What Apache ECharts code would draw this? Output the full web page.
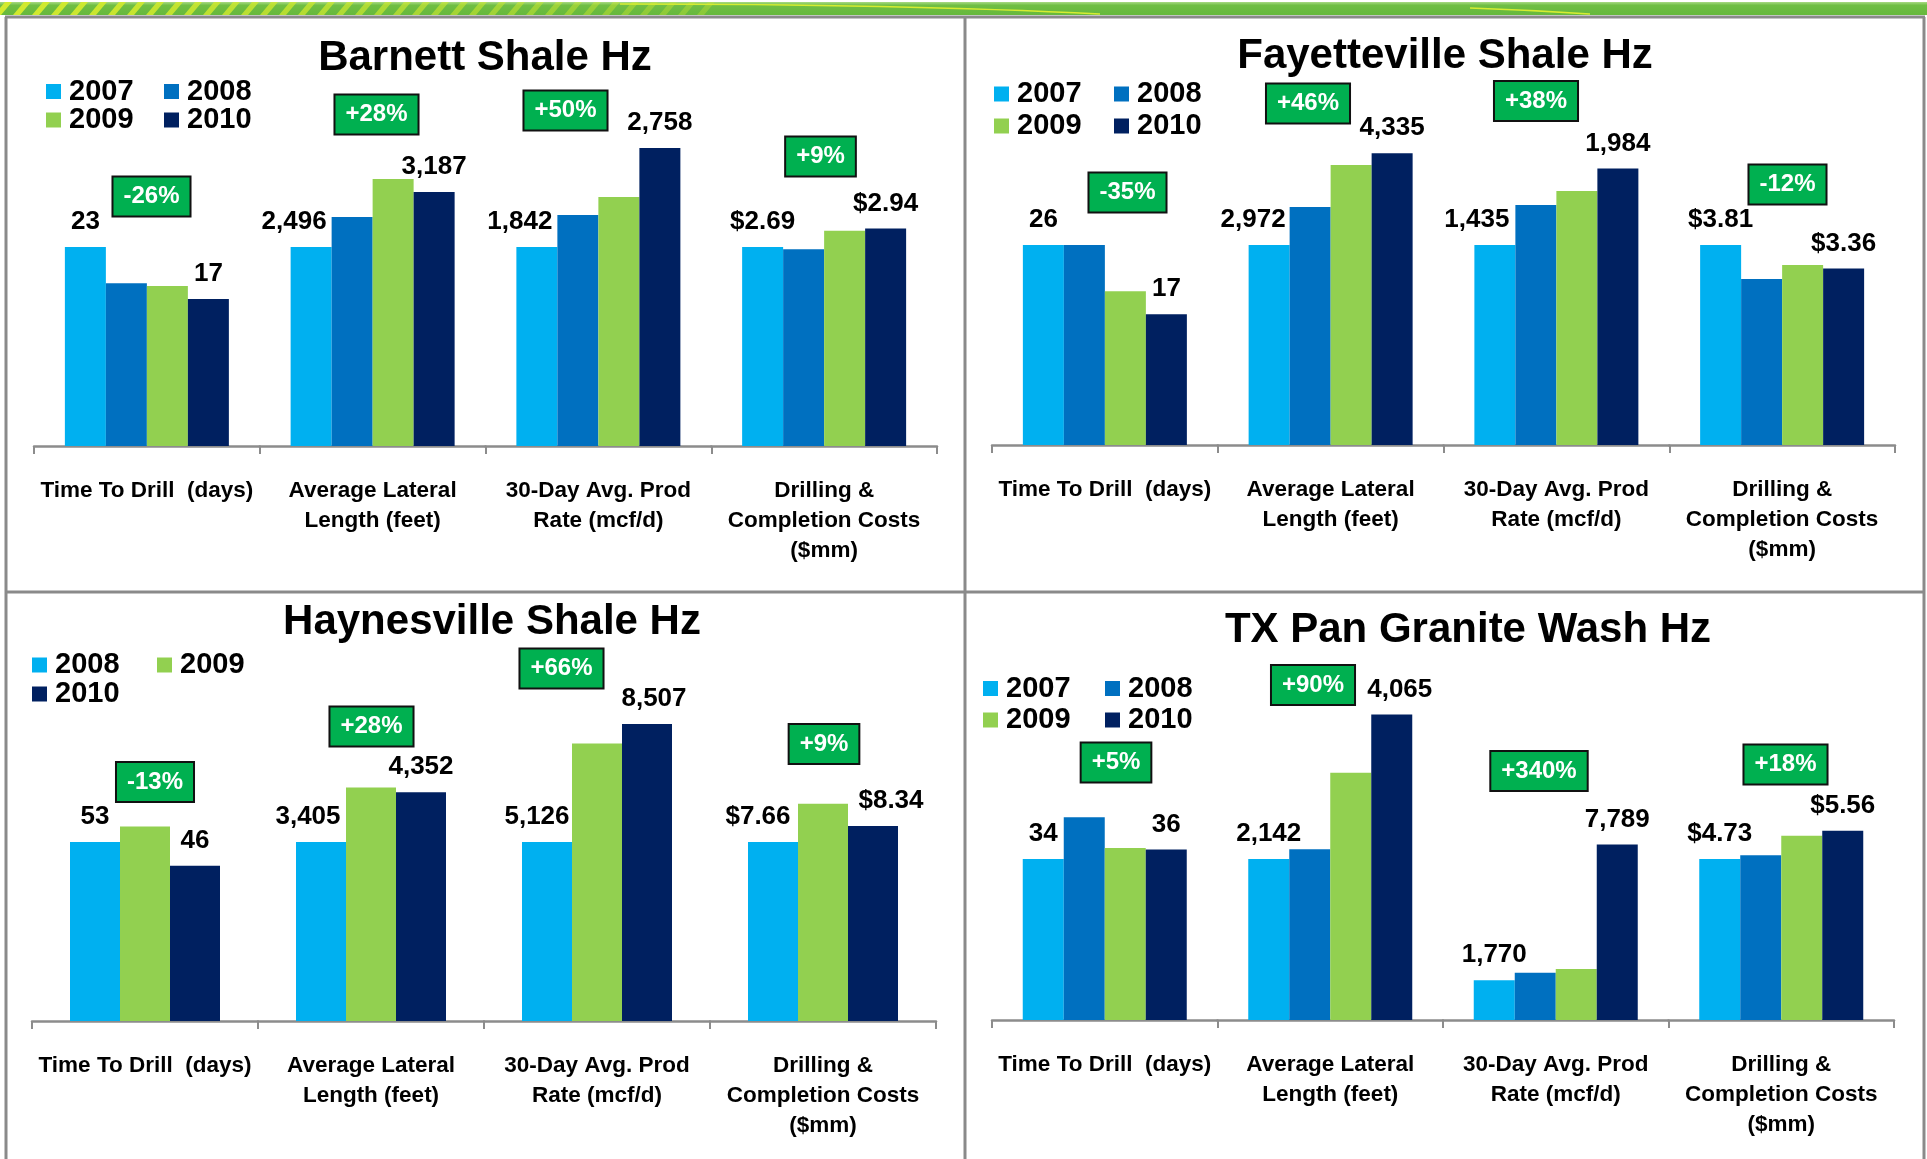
<!DOCTYPE html>
<html>
<head>
<meta charset="utf-8">
<script src="https://cdn.jsdelivr.net/npm/echarts@6/dist/echarts.min.js"></script>
<style>
  html, body { margin: 0; padding: 0; background: #ffffff; }
  #chart { width: 1927px; height: 1159px; }
</style>
</head>
<body>
<div id="chart"></div>
<script>
// ---- Data -------------------------------------------------------------
const categories = [
  'Time To Drill  (days)',
  'Average Lateral\nLength (feet)',
  '30-Day Avg. Prod\nRate (mcf/d)',
  'Drilling &\nCompletion Costs\n($mm)'
];

// Barnett Shale Hz
const barnettYears = ['2007', '2008', '2009', '2010'];
const barnett2007 = [23, 2496, 1842, 2.69];
const barnett2008 = [18.8, 2873, 2138, 2.66];
const barnett2009 = [18.5, 3349, 2305, 2.91];
const barnett2010 = [17, 3187, 2758, 2.94];
const barnettChange = ['-26%', '+28%', '+50%', '+9%'];

// Fayetteville Shale Hz
const fayYears = ['2007', '2008', '2009', '2010'];
const fay2007 = [26, 2972, 1435, 3.81];
const fay2008 = [26, 3537, 1722, 3.16];
const fay2009 = [20, 4161, 1823, 3.43];
const fay2010 = [17, 4335, 1984, 3.36];
const fayChange = ['-35%', '+46%', '+38%', '-12%'];

// Haynesville Shale Hz
const hayYears = ['2008', '2009', '2010'];
const hay2008 = [53, 3405, 5126, 7.66];
const hay2009 = [57.6, 4440, 7950, 9.3];
const hay2010 = [46, 4352, 8507, 8.34];
const hayChange = ['-13%', '+28%', '+66%', '+9%'];

// TX Pan Granite Wash Hz
const txYears = ['2007', '2008', '2009', '2010'];
const tx2007 = [34, 2142, 1770, 4.73];
const tx2008 = [42.8, 2271, 2100, 4.84];
const tx2009 = [36.3, 3290, 2270, 5.41];
const tx2010 = [36, 4065, 7789, 5.56];
const txChange = ['+5%', '+90%', '+340%', '+18%'];

// Value at which each category's bar reaches the panel's reference height
const barnettScale = [23, 2496, 1842, 2.69];
const fayScale = [26, 2972, 1435, 3.81];
const hayScale = [53, 3405, 5126, 7.66];
const txScale = [34, 2142, 7150, 4.73];

// ---- Styling --------------------------------------------------------------
const FONT = '"Liberation Sans", Arial, Helvetica, sans-serif';
const LIGHT_BLUE = '#00B0F0', BLUE = '#0070C0', GREEN = '#92D050', NAVY = '#002060';
const BOX_GREEN = '#00B050';
const FRAME = '#8a8a8a';

const valueFormat = [
  v => String(Math.round(v)),
  v => Math.round(v).toLocaleString('en-US'),
  v => Math.round(v).toLocaleString('en-US'),
  v => '$' + v.toFixed(2)
];

const panels = [
  {
    title: 'Barnett Shale Hz', years: barnettYears,
    values: [barnett2007, barnett2008, barnett2009, barnett2010],
    colors: [LIGHT_BLUE, BLUE, GREEN, NAVY], change: barnettChange, scale: barnettScale,
    x0: 34, x1: 937, base: 446, href: 199, barWidth: 41, titleAt: [485, 58],
    legendAt: [[46, 92], [164, 92], [46, 120.5], [164, 120.5]],
    boxAt: [[151.5, 196.5], [376.5, 114.5], [565.5, 110.5], [820.5, 156.5]],
    firstShift: [0, -17, -17, 0], lastShift: [0, 0, 0, 0]
  },
  {
    title: 'Fayetteville Shale Hz', years: fayYears,
    values: [fay2007, fay2008, fay2009, fay2010],
    colors: [LIGHT_BLUE, BLUE, GREEN, NAVY], change: fayChange, scale: fayScale,
    x0: 992, x1: 1895, base: 445, href: 200, barWidth: 41, titleAt: [1445, 56.5],
    legendAt: [[994, 94.5], [1114, 94.5], [994, 126.5], [1114, 126.5]],
    boxAt: [[1127.5, 192.5], [1308, 103.5], [1536, 101], [1787.5, 184.5]],
    firstShift: [0, -16, -18, 0], lastShift: [0, 0, 0, 0]
  },
  {
    title: 'Haynesville Shale Hz', years: hayYears,
    values: [hay2008, hay2009, hay2010],
    colors: [LIGHT_BLUE, GREEN, NAVY], change: hayChange, scale: hayScale,
    x0: 32, x1: 936, base: 1021, href: 179, barWidth: 50, titleAt: [492, 622.5],
    legendAt: [[32, 665.5], [157, 665.5], [32, 694.5]],
    boxAt: [[155, 782], [371.5, 726.5], [561.5, 668.5], [824, 744]],
    firstShift: [0, -13, -10, -15], lastShift: [0, 0, 7, 18]
  },
  {
    title: 'TX Pan Granite Wash Hz', years: txYears,
    values: [tx2007, tx2008, tx2009, tx2010],
    colors: [LIGHT_BLUE, BLUE, GREEN, NAVY], change: txChange, scale: txScale,
    x0: 992, x1: 1894, base: 1020, href: 161, barWidth: 41, titleAt: [1468, 630],
    legendAt: [[983, 689], [1105, 689], [983, 720.5], [1105, 720.5]],
    boxAt: [[1116, 762.5], [1313, 685], [1539, 771], [1785.5, 764.5]],
    firstShift: [0, 0, 0, 0], lastShift: [0, 8, 0, 0]
  }
];

// ---- Build option -----------------------------------------------------
const grid = [], xAxis = [], yAxis = [], series = [], legend = [], graphic = [];

// header band with diagonal highlight stripes
graphic.push({
  type: 'rect', silent: true, z: 0,
  shape: { x: 0, y: 2, width: 1927, height: 13 },
  style: { fill: { type: 'linear', x: 0, y: 0, x2: 0, y2: 1,
    colorStops: [{ offset: 0, color: '#a9da84' }, { offset: 0.25, color: '#6fbe44' }, { offset: 1, color: '#66b83c' }] } }
});
for (let i = 0; i < 38; i++) {
  const sx = i * 19 - 6;
  graphic.push({
    type: 'polygon', silent: true, z: 1,
    shape: { points: [[sx, 15], [sx + 7, 15], [sx + 18, 2], [sx + 11, 2]] },
    style: { fill: '#d3ea2e', opacity: Math.max(0.15, 1 - i / 55) }
  });
}
graphic.push({
  type: 'bezierCurve', silent: true, z: 1,
  shape: { x1: 620, y1: 4, x2: 1100, y2: 14, cpx1: 900, cpy1: 4 },
  style: { stroke: '#d6ec32', lineWidth: 1.5, fill: null }
});
graphic.push({
  type: 'bezierCurve', silent: true, z: 1,
  shape: { x1: 1470, y1: 8, x2: 1590, y2: 14, cpx1: 1530, cpy1: 10 },
  style: { stroke: '#d6ec32', lineWidth: 1.5, fill: null }
});

// panel frames
const frameLines = [
  [5, 17, 1925, 17], [6, 17, 6, 1159], [965, 17, 965, 1159],
  [1924, 17, 1924, 1159], [5, 592, 1925, 592]
];
frameLines.forEach(l => graphic.push({
  type: 'line', silent: true, z: 2,
  shape: { x1: l[0], y1: l[1], x2: l[2], y2: l[3] },
  style: { stroke: FRAME, lineWidth: 3 }
}));

panels.forEach(p => {
  const cw = (p.x1 - p.x0) / categories.length;
  const top = p.base - 2 * p.href;

  // title
  graphic.push({
    type: 'text', silent: true, z: 10, x: p.titleAt[0], y: p.titleAt[1],
    style: { text: p.title, fill: '#000', font: 'bold 42px ' + FONT,
      align: 'center', verticalAlign: 'middle', textAlign: 'center', textVerticalAlign: 'middle' }
  });

  // legend: one component per year so the two-row layout is exact
  p.years.forEach((yr, k) => {
    legend.push({
      data: [{ name: yr, itemStyle: { color: p.colors[k] } }],
      left: p.legendAt[k][0], top: p.legendAt[k][1] - 15,
      padding: 0, itemWidth: 15, itemHeight: 15, icon: 'rect',
      selectedMode: false,
      textStyle: { fontSize: 29, fontWeight: 'bold', fontFamily: FONT, color: '#000', padding: [0, 0, 0, 3] }
    });
  });

  // one grid per category, each with its own hidden value scale
  categories.forEach((cat, c) => {
    const gi = grid.length;
    grid.push({ left: p.x0 + c * cw, width: cw, top: top, height: 2 * p.href });
    xAxis.push({
      type: 'category', gridIndex: gi, data: [cat], boundaryGap: true,
      axisLine: { show: true, lineStyle: { color: '#8c8c8c', width: 2.5 } },
      axisTick: { show: true, length: 8, lineStyle: { color: '#8c8c8c', width: 2 } },
      axisLabel: { interval: 0, margin: 30, color: '#000', fontFamily: FONT,
        fontWeight: 'bold', fontSize: 22.5, lineHeight: 30 }
    });
    yAxis.push({ type: 'value', gridIndex: gi, min: 0, max: 2 * p.scale[c], show: false });

    p.years.forEach((yr, k) => {
      const isFirst = k === 0, isLast = k === p.years.length - 1;
      const v = p.values[k][c];
      series.push({
        type: 'bar', name: yr, xAxisIndex: gi, yAxisIndex: gi,
        barWidth: p.barWidth, barGap: '0%',
        data: [v],
        itemStyle: { color: p.colors[k] },
        emphasis: { disabled: true },
        label: {
          show: isFirst || isLast, position: 'top', distance: 12,
          offset: [isFirst ? p.firstShift[c] : p.lastShift[c], 0],
          formatter: () => valueFormat[c](v),
          color: '#000', fontFamily: FONT, fontWeight: 'bold', fontSize: 26
        }
      });
    });

    // change callout box
    graphic.push({
      type: 'text', silent: true, z: 20, x: p.boxAt[c][0], y: p.boxAt[c][1],
      style: {
        text: p.change[c], fill: '#ffffff', font: 'bold 24px ' + FONT,
        align: 'center', verticalAlign: 'middle', textAlign: 'center', textVerticalAlign: 'middle',
        backgroundColor: BOX_GREEN, borderColor: '#111111', borderWidth: 2,
        padding: [7, 10, 7, 10]
      }
    });
  });
});

const chart = echarts.init(document.getElementById('chart'), null, { renderer: 'canvas' });
chart.setOption({
  backgroundColor: '#ffffff',
  animation: false,
  grid, xAxis, yAxis, series, legend, graphic
});
</script>
</body>
</html>
